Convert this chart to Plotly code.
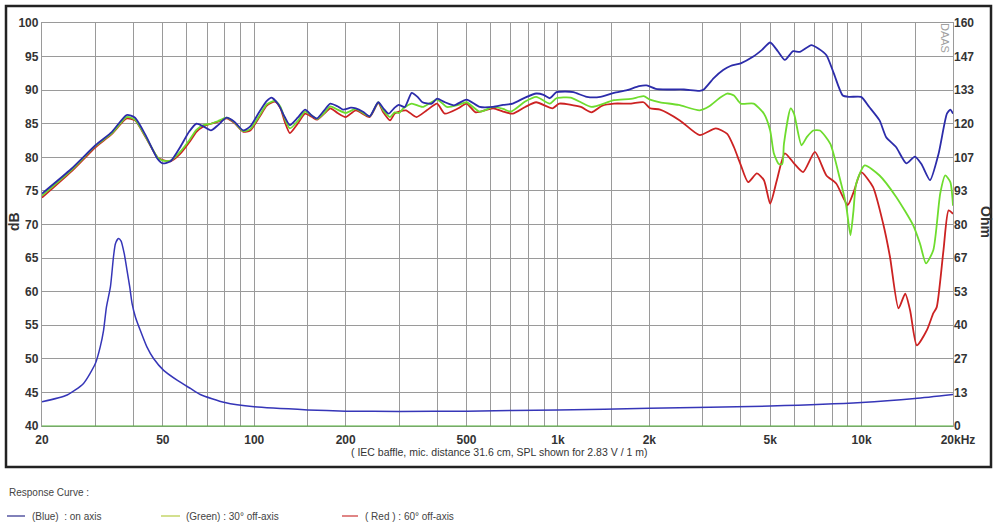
import plotly.graph_objects as go

# ---------------- data ----------------
blue_f = [20, 25, 30, 34, 38, 40.5, 44, 48, 50, 53, 57, 61, 64.5, 68, 72, 76, 81, 86, 92, 97,
          104, 110, 114, 120, 126, 131, 139, 147, 155, 161, 170, 178, 188, 196, 208, 216, 228, 240,
          256, 266, 277, 290, 299, 313, 330, 345, 358, 384, 400, 425, 455, 500, 553, 612, 660, 710,
          780, 848, 897, 940, 989, 1060, 1125, 1245, 1380, 1530, 1690, 1850, 1960, 2100, 2300, 2600,
          2930, 3020, 3260, 3500, 3700, 4000, 4400, 4700, 5000, 5300, 5590, 5950, 6260, 6830, 7200,
          7660, 8100, 8670, 9120, 9960, 10600, 11460, 12050, 13000, 14040, 14970, 15740, 16800,
          17920, 19100, 19600, 20000]
blue_db = [74.6, 78.3, 81.8, 83.8, 86.3, 85.9, 83.2, 79.8, 79.1, 79.4, 81.5, 83.8, 85.0, 84.6, 84.0,
           84.8, 85.9, 85.3, 84.0, 84.6, 86.8, 88.4, 88.9, 87.9, 86.0, 84.8, 85.9, 87.1, 86.2, 85.8,
           87.0, 88.0, 87.6, 87.1, 87.4, 87.3, 86.8, 86.1, 88.2, 87.3, 86.5, 87.4, 87.8, 87.5, 89.6,
           89.0, 88.2, 88.0, 88.75, 88.2, 87.75, 88.6, 87.5, 87.5, 87.8, 88.0, 88.9, 89.5, 89.3, 88.8,
           89.7, 89.8, 89.7, 89.0, 89.0, 89.6, 90.0, 90.6, 90.7, 90.2, 90.1, 90.1, 89.9, 90.1, 91.8,
           93.0, 93.6, 94.0, 95.0, 96.0, 97.1, 95.8, 94.5, 95.8, 95.7, 96.7, 96.2, 95.2, 92.5, 89.2,
           89.0, 89.0, 87.5, 85.5, 83.0, 81.5, 79.1, 80.1, 79.0, 76.6, 80.5, 86.5, 87.1, 86.5]

green_f = [20, 25, 30, 34, 38, 40.5, 44, 48, 50, 53, 57, 61, 64.5, 68, 72, 76, 81, 86, 92, 97,
           104, 110, 117, 122, 126, 131, 139, 147, 155, 161, 170, 178, 188, 200, 216, 240, 256, 266,
           280, 290, 300, 310, 330, 358, 400, 431, 470, 500, 553, 612, 660, 700, 780, 848, 940, 989,
           1100, 1190, 1290, 1530, 1740, 1915, 2010, 2170, 2500, 2930, 3150, 3400, 3610, 3800, 4000,
           4410, 4770, 5000, 5140, 5340, 5480, 5550, 5840, 5990, 6340, 6600, 6930, 7290, 7890, 8450,
           8890, 9190, 9400, 9600, 10240, 11460, 13000, 14780, 15560, 16300, 17230, 18150, 18860,
           19600, 20000]
green_db = [74.3, 78.1, 81.7, 83.6, 86.0, 85.6, 83.0, 80.0, 79.5, 79.5, 80.8, 82.5, 84.1, 84.8, 85.0,
            85.4, 85.9, 85.2, 83.9, 84.2, 86.2, 87.9, 88.4, 87.5, 85.8, 84.3, 85.4, 86.8, 86.2, 85.7,
            86.6, 87.6, 87.1, 86.6, 87.2, 86.1, 88.2, 87.0, 86.0, 86.7, 86.6, 87.3, 88.0, 87.5, 88.6,
            87.5, 87.8, 88.2, 86.8, 87.5, 87.2, 86.8, 88.3, 89.0, 88.0, 88.8, 88.9, 88.2, 87.5, 88.5,
            88.7, 89.1, 88.6, 88.2, 87.8, 87.0, 87.6, 88.8, 89.5, 89.2, 88.0, 88.0, 86.5, 84.0, 80.6,
            79.0, 79.0, 82.0, 87.3, 86.5, 81.8, 83.0, 84.0, 84.0, 82.0, 77.1, 72.9, 68.4, 72.0, 76.1,
            78.8, 77.3, 74.1, 69.9, 67.2, 64.2, 66.2, 74.6, 77.3, 76.3, 72.8]

red_f = [20, 25, 30, 34, 38, 40.5, 44, 48, 50, 53, 57, 61, 64.5, 68, 72, 76, 81, 86, 92, 97,
         104, 110, 117, 122, 126, 131, 139, 147, 155, 161, 170, 178, 188, 200, 216, 240, 256, 266,
         280, 290, 300, 316, 342, 370, 400, 424, 470, 500, 536, 612, 660, 710, 780, 848, 960, 1010,
         1190, 1290, 1400, 1530, 1740, 1915, 2010, 2170, 2520, 2930, 3310, 3610, 3800, 3990, 4230,
         4520, 4770, 5000, 5260, 5590, 5990, 6420, 7020, 7660, 8250, 9000, 9460, 9960, 10900, 11780,
         12400, 13230, 13920, 14450, 15200, 16420, 17230, 17680, 18610, 19340, 20000]
red_db = [74.0, 77.9, 81.5, 83.5, 85.8, 85.5, 82.9, 80.0, 79.6, 79.4, 80.5, 82.2, 83.8, 84.6, 85.0,
          85.3, 85.8, 85.1, 83.8, 84.0, 86.0, 87.7, 88.3, 87.3, 85.3, 83.6, 85.0, 86.5, 86.0, 85.6,
          86.5, 87.3, 86.6, 86.0, 87.0, 86.0, 88.1, 86.7, 85.5, 86.5, 86.8, 87.0, 86.0, 87.0, 88.0,
          86.5, 87.3, 88.0, 86.7, 87.3, 86.8, 86.5, 87.5, 88.2, 87.3, 88.0, 87.5, 86.7, 87.7, 88.0,
          88.0, 88.2, 87.3, 87.1, 85.5, 83.3, 84.3, 83.5, 81.5, 79.0, 76.3, 77.6, 76.6, 73.1, 76.6,
          80.6, 79.1, 77.8, 80.8, 77.3, 76.1, 72.9, 75.1, 77.8, 75.6, 70.1, 65.2, 57.5, 59.7, 57.2,
          52.0, 54.3, 56.8, 57.7, 66.2, 72.1, 71.6]

imp_f = [20, 24.2, 27.4, 30, 31.1, 31.9, 32.6, 33.6, 34.4, 34.9, 35.7, 36.4, 37.3, 38.1, 38.9,
         39.6, 40.6, 42.1, 44.3, 46.6, 50.3, 55.7, 61.6, 66.4, 80, 100, 150, 200, 300, 500, 1000,
         2000, 5000, 10000, 15000, 20000]
imp_ohm = [9.6, 12.3, 16.9, 24.9, 31.4, 38.0, 47.2, 55.2, 67.3, 72.4, 74.4, 73.5, 68.5, 61.9, 55.2,
           48.6, 43.3, 38.1, 31.4, 26.8, 22.1, 18.2, 14.9, 12.5, 9.3, 7.6, 6.4, 5.9, 5.8, 5.9, 6.4,
           7.0, 7.9, 9.3, 10.9, 12.5]

x_grid = [20, 30, 40, 50, 60, 70, 80, 90, 100, 150, 200, 300, 400, 500, 600, 700, 800, 900,
          1000, 1500, 2000, 3000, 4000, 5000, 6000, 7000, 8000, 9000, 10000, 15000, 20000]
x_labels = {20: "20", 50: "50", 100: "100", 200: "200", 500: "500", 1000: "1k", 2000: "2k",
            5000: "5k", 10000: "10k", 20000: "&nbsp;&nbsp;&nbsp;20kHz"}
ohm_labels = ["0", "13", "27", "40", "53", "67", "80", "93", "107", "120", "133", "147", "160"]

# ---------------- geometry helpers (pixels -> paper) ----------------
L, R, T, B = 42, 47, 23, 100
W, H = 1000, 526
PW, PH = W - L - R, H - T - B


def px(x):
    return (x - L) / PW


def py(y):
    return (H - B - y) / PH


FONT = "Liberation Sans, Arial, sans-serif"
GRID = "#9a9a9a"

fig = go.Figure()
fig.add_trace(go.Scatter(x=imp_f, y=imp_ohm, yaxis="y2", mode="lines",
                         line=dict(color="#3636b8", width=1.5, shape="spline", smoothing=0.6),
                         name="Impedance", showlegend=False, hoverinfo="skip"))
fig.add_trace(go.Scatter(x=red_f, y=red_db, mode="lines",
                         line=dict(color="#cc2222", width=1.8, shape="spline", smoothing=0.6),
                         name="( Red ) : 60° off-axis", showlegend=False))
fig.add_trace(go.Scatter(x=green_f, y=green_db, mode="lines",
                         line=dict(color="#6edc2e", width=1.8, shape="spline", smoothing=0.6),
                         name="(Green) : 30° off-axis", showlegend=False))
fig.add_trace(go.Scatter(x=blue_f, y=blue_db, mode="lines",
                         line=dict(color="#2c2caa", width=1.8, shape="spline", smoothing=0.6),
                         name="(Blue) : on axis", showlegend=False))

fig.update_layout(
    width=W, height=H,
    margin=dict(l=L, r=R, t=T, b=B, pad=0),
    paper_bgcolor="white", plot_bgcolor="white",
    font=dict(family=FONT, color="#333333"),
    xaxis=dict(type="log", range=[1.30103, 4.30103],
               tickvals=x_grid, ticktext=[x_labels.get(v, "") for v in x_grid],
               showgrid=True, gridcolor=GRID, gridwidth=1.3,
               ticks="", ticklabelstandoff=2,
               showline=True, linecolor=GRID, linewidth=1.3, mirror=True,
               tickfont=dict(size=12, color="#333333", weight="bold"),
               zeroline=False, tickangle=0),
    yaxis=dict(range=[40, 100], dtick=5, tick0=40,
               showgrid=True, gridcolor=GRID, gridwidth=1.3,
               showline=True, linecolor=GRID, linewidth=1.3, mirror=True,
               ticks="", tickfont=dict(size=12, color="#333333", weight="bold"),
               zeroline=False),
    yaxis2=dict(range=[0, 160], overlaying="y", side="right",
                tickvals=[i * 160 / 12 for i in range(13)], ticktext=ohm_labels,
                showgrid=False, zeroline=False, showline=False, ticks="",
                tickfont=dict(size=12, color="#333333", weight="bold")),
)

shapes = [
    # outer frame
    dict(type="rect", xref="paper", yref="paper", x0=px(6), x1=px(991), y0=py(467), y1=py(6),
         line=dict(color="#222222", width=2.5), layer="below"),
    # green bottom axis line
    dict(type="line", xref="paper", yref="paper", x0=0, x1=1, y0=0, y1=0,
         line=dict(color="#55b33a", width=1.2)),
    # legend samples
    dict(type="line", xref="paper", yref="paper", x0=px(7), x1=px(25), y0=py(516), y1=py(516),
         line=dict(color="#2c2c8a", width=1.2)),
    dict(type="line", xref="paper", yref="paper", x0=px(161), x1=px(180), y0=py(516), y1=py(516),
         line=dict(color="#b5cc44", width=1.2)),
    dict(type="line", xref="paper", yref="paper", x0=px(342), x1=px(358), y0=py(516), y1=py(516),
         line=dict(color="#cc3333", width=1.2)),
]
fig.update_layout(shapes=shapes)

ann = [
    dict(text="<b>dB</b>", x=px(14), y=py(222), textangle=-90, font=dict(size=14, color="#333333")),
    dict(text="<b>Ohm</b>", x=px(986), y=py(222), textangle=90, font=dict(size=14, color="#333333")),
    dict(text="DAAS", x=px(945), y=py(38), textangle=90, font=dict(size=11, color="#a0a0a0")),
    dict(text="( IEC baffle, mic. distance 31.6 cm, SPL shown for 2.83 V / 1 m)", x=px(499), y=py(452),
         font=dict(size=10.5, color="#333333")),
    dict(text="Response Curve :", x=px(7), y=py(492), xanchor="left", font=dict(size=10, color="#444444")),
    dict(text="(Blue)  : on axis", x=px(30), y=py(516), xanchor="left", font=dict(size=10, color="#444444")),
    dict(text="(Green) : 30° off-axis", x=px(184), y=py(516), xanchor="left", font=dict(size=10, color="#444444")),
    dict(text="( Red ) : 60° off-axis", x=px(363), y=py(516), xanchor="left", font=dict(size=10, color="#444444")),
]
for a in ann:
    a.setdefault("xanchor", "center")
    fig.add_annotation(xref="paper", yref="paper", showarrow=False, yanchor="middle", **a)

fig.write_html("out.html", config={"displayModeBar": False},
               post_script="document.body.style.margin='0';document.body.style.overflow='hidden';")
